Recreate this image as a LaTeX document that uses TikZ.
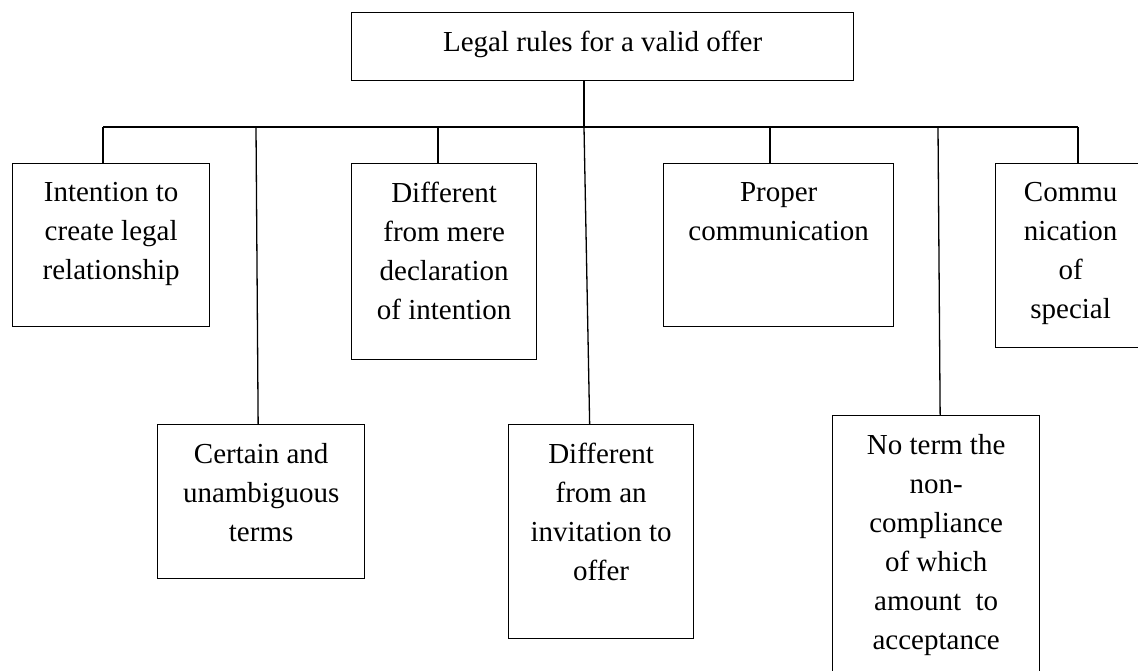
\documentclass[tikz,border=0pt]{standalone}
\usepackage{fontspec}
\setmainfont{Liberation Serif}
\usetikzlibrary{positioning}
\tikzset{
  rulebox/.style={draw, line width=1.3pt, anchor=north west, inner sep=0pt},
  ruletext/.style={font=\fontsize{29}{39}\selectfont, align=center, inner sep=0pt},
  treeline/.style={line width=1.3pt}
}

\begin{document}
\begin{tikzpicture}[x=1pt, y=-1pt, node distance=19pt]
  \clip (0,0) rectangle (1138,670);
  \node[rulebox, minimum width=502pt, minimum height=68pt] (rules) at (351,12) {};
  \node[ruletext, below=of rules.north] (rulestxt) {Legal rules for a valid offer};
  \node[rulebox, minimum width=197pt, minimum height=163pt] (b1) at (12,163) {};
  \node[ruletext, below=of b1.north] (t1) {Intention to\\create legal\\relationship};
  \node[rulebox, minimum width=207pt, minimum height=154pt] (b2) at (157,424) {};
  \node[ruletext, below=of b2.north] (t2) {Certain and\\unambiguous\\terms};
  \node[rulebox, minimum width=185pt, minimum height=196pt] (b3) at (351,163) {};
  \node[ruletext, below=of b3.north] (t3) {Different\\from mere\\declaration\\of intention};
  \node[rulebox, minimum width=185pt, minimum height=214pt] (b4) at (508,424) {};
  \node[ruletext, below=of b4.north] (t4) {Different\\from an\\invitation to\\offer};
  \node[rulebox, minimum width=230pt, minimum height=163pt] (b5) at (663,163) {};
  \node[ruletext, below=of b5.north] (t5) {Proper\\communication};
  \node[rulebox, minimum width=207pt, minimum height=280pt] (b6) at (832,415) {};
  \node[ruletext, below=of b6.north] (t6) {No term the\\non-\\compliance\\of which\\amount\ \ to\\acceptance};
  \node[rulebox, minimum width=150pt, minimum height=184pt] (b7) at (995,163) {};
  \node[ruletext, below=of b7.north] (t7) {Commu\\nication\\of\\special};
  \coordinate (j0) at (584,127);
  \coordinate (j1) at (103,127);
  \coordinate (j2) at (256,127);
  \coordinate (j3) at (438,127);
  \coordinate (j5) at (770,127);
  \coordinate (j6) at (938,127);
  \coordinate (j7) at (1078,127);
  \draw[treeline] (rules.south -| j0) -- (j0);
  \draw[treeline] (j1) -- (j7);
  \draw[treeline] (j1) -- (j1 |- b1.north);
  \draw[treeline] (j2) -- ([xshift=-3pt]b2.north);
  \draw[treeline] (j3) -- (j3 |- b3.north);
  \draw[treeline] (j0) -- ([xshift=-11.5pt]b4.north);
  \draw[treeline] (j5) -- (j5 |- b5.north);
  \draw[treeline] (j6) -- ([xshift=4pt]b6.north);
  \draw[treeline] (j7) -- (j7 |- b7.north);
\end{tikzpicture}
\end{document}
